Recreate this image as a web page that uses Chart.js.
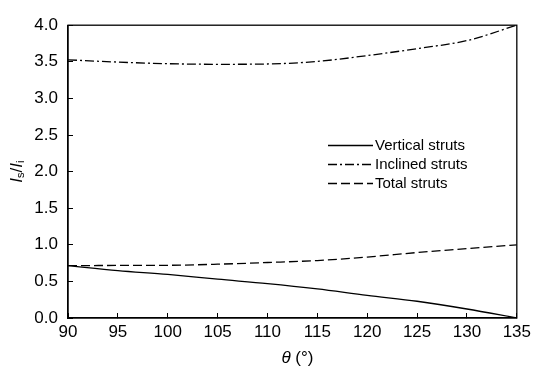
<!DOCTYPE html>
<html>
<head>
<meta charset="utf-8">
<script src="https://cdn.jsdelivr.net/npm/chart.js@4.4.1/dist/chart.umd.min.js"></script>
<style>
    html, body { margin: 0; padding: 0; background: #ffffff; }
    canvas { display: block; }
</style>
</head>
<body>
<canvas id="myChart" width="540" height="376"></canvas>
<script>
"use strict";

// values
const thetaDeg = [90, 95, 100, 105, 110, 115, 120, 125, 130, 135];
const verticalStruts = [0.715, 0.648, 0.595, 0.53, 0.47, 0.397, 0.308, 0.229, 0.123, 0.0];
const inclinedStruts = [3.527, 3.496, 3.474, 3.466, 3.47, 3.505, 3.585, 3.68, 3.79, 4.0];
const totalStruts = [0.715, 0.718, 0.72, 0.735, 0.758, 0.785, 0.833, 0.894, 0.947, 1.0];

const seriesNames = ["Vertical struts", "Inclined struts", "Total struts"];
const xTickValues = [90, 95, 100, 105, 110, 115, 120, 125, 130, 135];
const yTickValues = [0, 0.5, 1, 1.5, 2, 2.5, 3, 3.5, 4];

const FONT = "'Liberation Sans', Arial, sans-serif";

const toPoints = (values) => values.map((v, i) => ({ x: thetaDeg[i], y: v }));

// frame, axis titles and the legend inside the plot
const decorations = {
    id: "decorations",
    afterDraw(chart) {
        const ctx = chart.ctx;
        const area = chart.chartArea;
        ctx.save();

        ctx.strokeStyle = "#000";
        ctx.lineWidth = 1.3;
        ctx.setLineDash([]);
        ctx.strokeRect(area.left, area.top, area.right - area.left, area.bottom - area.top);

        ctx.fillStyle = "#000";
        ctx.textBaseline = "middle";

        // x title: theta (°)
        const xMid = (area.left + area.right) / 2 + 5;
        ctx.font = "italic 17px " + FONT;
        const wTheta = ctx.measureText("\u03b8").width;
        ctx.font = "17px " + FONT;
        const wRest = ctx.measureText(" (\u00b0)").width;
        let x0 = xMid - (wTheta + wRest) / 2;
        ctx.textAlign = "left";
        ctx.font = "italic 17px " + FONT;
        ctx.fillText("\u03b8", x0, 358);
        ctx.font = "17px " + FONT;
        ctx.fillText(" (\u00b0)", x0 + wTheta, 358);

        // y title: Is/Ii
        const parts = [
            { t: "I", f: "italic 17px " + FONT, dy: 0 },
            { t: "s", f: "11px " + FONT, dy: 4 },
            { t: "/", f: "17px " + FONT, dy: 0 },
            { t: "I", f: "italic 17px " + FONT, dy: 0 },
            { t: "i", f: "11px " + FONT, dy: 4 },
        ];
        let total = 0;
        parts.forEach((p) => {
            ctx.font = p.f;
            p.w = ctx.measureText(p.t).width;
            total += p.w;
        });
        ctx.translate(17, (area.top + area.bottom) / 2);
        ctx.rotate(-Math.PI / 2);
        let px = -total / 2;
        parts.forEach((p) => {
            ctx.font = p.f;
            ctx.fillText(p.t, px, p.dy);
            px += p.w;
        });
        ctx.setTransform(1, 0, 0, 1, 0, 0);

        // legend
        const lx = 328, lw = 45, rows = [145, 164, 183];
        ctx.font = "15px " + FONT;
        chart.data.datasets.forEach((ds, i) => {
            ctx.beginPath();
            ctx.setLineDash(ds.borderDash || []);
            ctx.lineWidth = ds.borderWidth;
            ctx.moveTo(lx, rows[i] + 0.5);
            ctx.lineTo(lx + lw, rows[i] + 0.5);
            ctx.stroke();
            ctx.fillText(ds.label, lx + lw + 2, rows[i] + 1);
        });
        ctx.restore();
    },
};

const makeDataset = (label, values, dash) => ({
    label: label,
    data: toPoints(values),
    borderColor: "#000",
    borderWidth: 1.3,
    borderDash: dash,
    pointRadius: 0,
    fill: false,
    tension: 0.4,
    cubicInterpolationMode: "monotone",
});

const renderChart = () => {
    const ctx = document.getElementById("myChart").getContext("2d");

    new Chart(ctx, {
        type: "line",
        data: {
            datasets: [
                makeDataset(seriesNames[0], verticalStruts, []),
                makeDataset(seriesNames[1], inclinedStruts, [9, 3, 2, 3]),
                makeDataset(seriesNames[2], totalStruts, [9, 4]),
            ],
        },
        options: {
            responsive: false,
            animation: false,
            layout: {
                padding: { top: 16, right: 19, bottom: 0, left: 0 },
            },
            plugins: {
                legend: { display: false },
                tooltip: { enabled: false },
            },
            scales: {
                x: {
                    type: "linear",
                    min: 90,
                    max: 135,
                    afterFit: (scale) => { scale.height = 58; },
                    afterBuildTicks: (scale) => {
                        scale.ticks = xTickValues.map((v) => ({ value: v }));
                    },
                    grid: {
                        drawOnChartArea: false,
                        drawTicks: true,
                        tickLength: -5,
                        color: "#000",
                        lineWidth: 1,
                    },
                    border: { display: true, color: "#000", width: 1.3 },
                    ticks: {
                        color: "#000",
                        font: { family: FONT, size: 17 },
                        padding: 9,
                        maxRotation: 0,
                        autoSkip: false,
                    },
                },
                y: {
                    min: 0,
                    max: 4,
                    afterFit: (scale) => { scale.width = 68; },
                    afterBuildTicks: (scale) => {
                        scale.ticks = yTickValues.map((v) => ({ value: v }));
                    },
                    grid: {
                        drawOnChartArea: false,
                        drawTicks: true,
                        tickLength: -5,
                        color: "#000",
                        lineWidth: 1,
                    },
                    border: { display: true, color: "#000", width: 1.3 },
                    ticks: {
                        color: "#000",
                        font: { family: FONT, size: 17 },
                        padding: 15,
                        autoSkip: false,
                        callback: (v) => v.toFixed(1),
                    },
                },
            },
        },
        plugins: [decorations],
    });
};

window.onload = () => {
    renderChart();
};
</script>
</body>
</html>
